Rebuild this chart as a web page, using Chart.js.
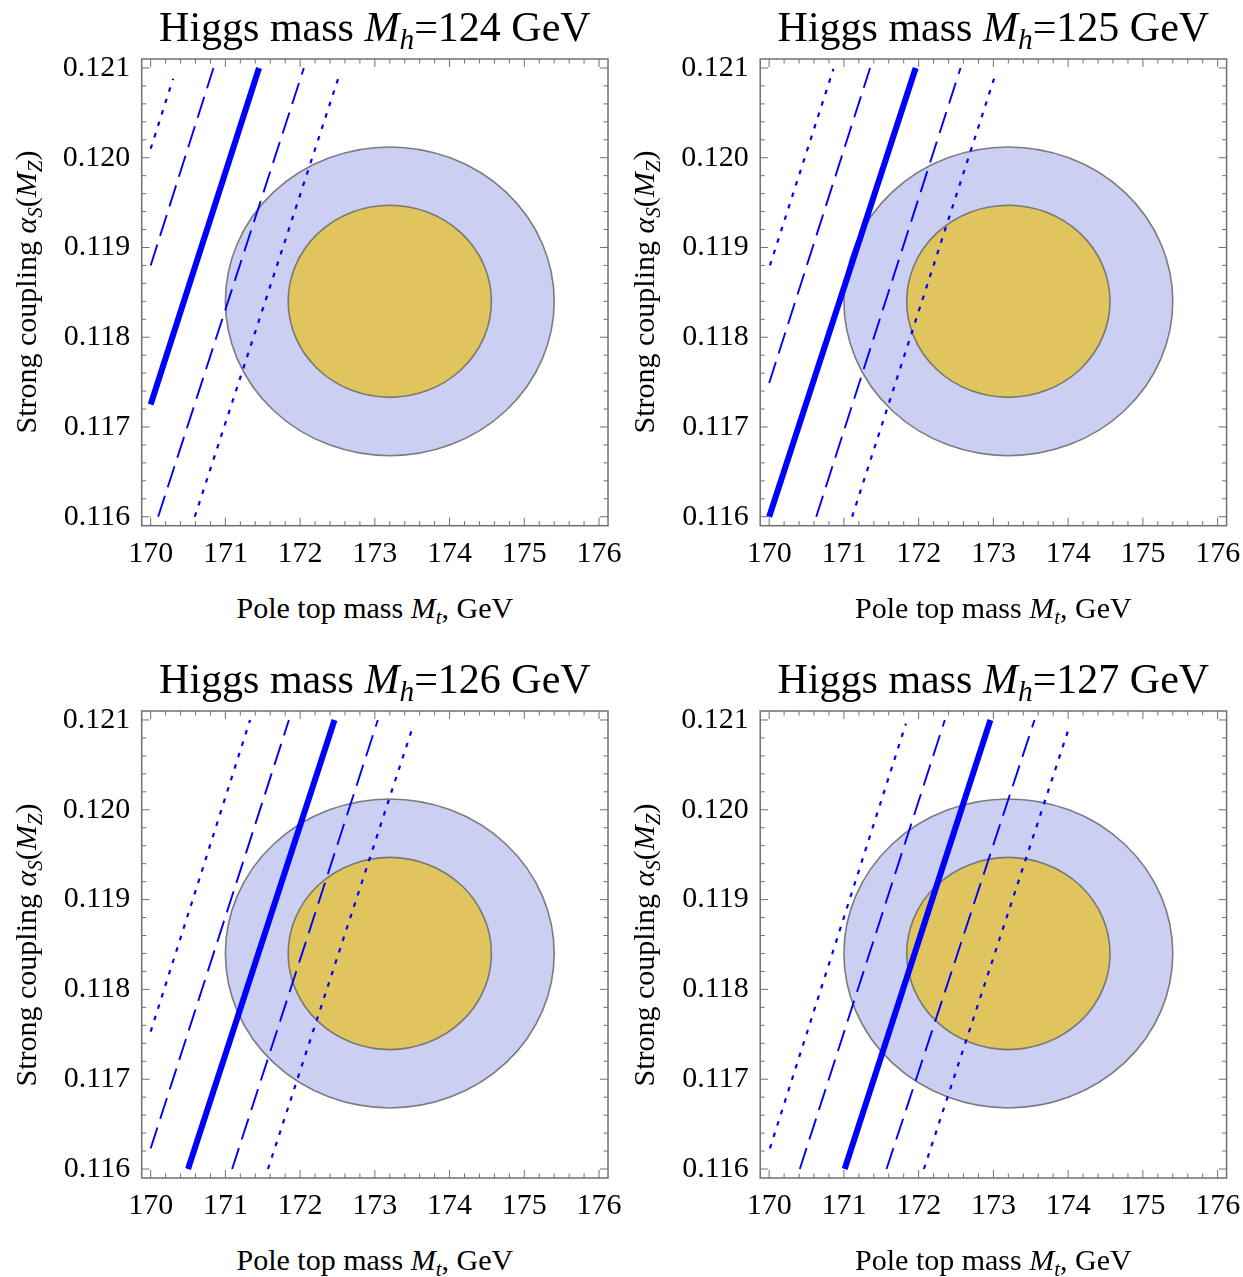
<!DOCTYPE html>
<html><head><meta charset="utf-8">
<script src="https://cdn.jsdelivr.net/npm/chart.js@4.4.1/dist/chart.umd.min.js"></script>
<style>
html,body{margin:0;padding:0;background:#fff;}
#page{position:relative;width:1243px;height:1277px;overflow:hidden;background:#fff;font-family:'Liberation Serif','Times New Roman',serif;color:#000;}
#page canvas{position:absolute;}
.txt{position:absolute;white-space:nowrap;text-align:center;line-height:1;}
.txt sub{font-size:0.7em;line-height:0;vertical-align:-0.28em;}
</style></head><body><div id="page"></div>
<script>
// ---- data ----
const higgsMasses = [124, 125, 126, 127];
const xTickValues = [170, 171, 172, 173, 174, 175, 176];
const yTickValues = [0.116, 0.117, 0.118, 0.119, 0.120, 0.121];
const xRange = [169.88, 176.12];
const yRange = [0.1159, 0.1211];

// experimental region: (Mt, alpha_s) centre and ellipse half-axes
const ellipseCenter = [173.2, 0.1184];
const outerRadii = [2.2, 0.00172];
const innerRadii = [1.36, 0.00107];

// Mh = 124
const central124   = [[170.00, 0.11725], [171.45, 0.12100]];
const dashedLo124  = [[170.00, 0.11880], [170.84, 0.12100]];
const dottedLo124  = [[170.00, 0.12010], [170.30, 0.12088]];
const dashedHi124  = [[170.10, 0.11600], [172.05, 0.12100]];
const dottedHi124  = [[170.59, 0.11600], [172.52, 0.12091]];
// Mh = 125
const central125   = [[170.00, 0.11600], [171.96, 0.12100]];
const dashedLo125  = [[170.00, 0.11749], [171.35, 0.12100]];
const dottedLo125  = [[170.01, 0.11880], [170.86, 0.12099]];
const dashedHi125  = [[170.63, 0.11600], [172.56, 0.12100]];
const dottedHi125  = [[171.11, 0.11600], [173.02, 0.12091]];
// Mh = 126
const central126   = [[170.50, 0.11600], [172.46, 0.12100]];
const dashedLo126  = [[170.00, 0.11623], [171.85, 0.12100]];
const dottedLo126  = [[170.00, 0.11753], [171.33, 0.12100]];
const dashedHi126  = [[171.09, 0.11600], [173.04, 0.12100]];
const dottedHi126  = [[171.57, 0.11600], [173.51, 0.12093]];
// Mh = 127
const central127   = [[171.01, 0.11600], [172.96, 0.12100]];
const dashedLo127  = [[170.41, 0.11600], [172.35, 0.12100]];
const dottedLo127  = [[170.01, 0.11623], [171.83, 0.12096]];
const dashedHi127  = [[171.57, 0.11600], [173.55, 0.12100]];
const dottedHi127  = [[172.07, 0.11600], [174.01, 0.12091]];

const panelLines = [
  [central124, dashedLo124, dottedLo124, dashedHi124, dottedHi124],
  [central125, dashedLo125, dottedLo125, dashedHi125, dottedHi125],
  [central126, dashedLo126, dottedLo126, dashedHi126, dottedHi126],
  [central127, dashedLo127, dottedLo127, dashedHi127, dottedHi127]
];

// ---- layout / style ----
const frames = [
  {L:141.7, T:59,  R:608,    B:525.7},
  {L:760.2, T:59,  R:1226.6, B:525.7},
  {L:141.7, T:711, R:608,    B:1178},
  {L:760.2, T:711, R:1226.6, B:1178}
];
const titleBaselines = [40.7, 40.7, 692.7, 692.7];
const xTitleBaselines = [618.3, 618.3, 1270.3, 1270.3];
const FONT = "'Liberation Serif','Times New Roman',serif";
const lineStyles = [
  {w:6,   dash:[]},
  {w:1.9, dash:[22,9]},
  {w:2.2, dash:[4.5,7.5]},
  {w:1.9, dash:[22,9]},
  {w:2.2, dash:[4.5,7.5]}
];
const FRAME_COLOR = '#707070';

const regionPlugin = {
  id: 'regions',
  beforeDatasetsDraw(chart) {
    const {ctx, chartArea: a} = chart;
    const xs = chart.scales.x, ys = chart.scales.y;
    ctx.save();
    ctx.beginPath(); ctx.rect(a.left, a.top, a.right - a.left, a.bottom - a.top); ctx.clip();
    [[outerRadii, '#cbd0f3'], [innerRadii, '#e0c45e']].forEach(([r, fill]) => {
      const cx = xs.getPixelForValue(ellipseCenter[0]);
      const cy = ys.getPixelForValue(ellipseCenter[1]);
      const rx = Math.abs(xs.getPixelForValue(ellipseCenter[0] + r[0]) - cx);
      const ry = Math.abs(ys.getPixelForValue(ellipseCenter[1] + r[1]) - cy);
      ctx.beginPath(); ctx.ellipse(cx, cy, rx, ry, 0, 0, 2 * Math.PI);
      ctx.fillStyle = fill; ctx.fill();
      ctx.lineWidth = 1.6; ctx.strokeStyle = 'rgba(105,105,105,0.85)'; ctx.stroke();
    });
    ctx.restore();
  },
  afterDatasetsDraw(chart) {
    const {ctx, chartArea: a} = chart;
    const xs = chart.scales.x, ys = chart.scales.y;
    ctx.save();
    ctx.strokeStyle = FRAME_COLOR;
    ctx.lineWidth = 1;
    ctx.beginPath();
    for (let k = Math.ceil(xRange[0] * 5); k <= Math.floor(xRange[1] * 5); k++) {
      const px = xs.getPixelForValue(k / 5);
      const len = (k % 5 === 0) ? 8 : 4.5;
      ctx.moveTo(px, a.bottom); ctx.lineTo(px, a.bottom - len);
      ctx.moveTo(px, a.top); ctx.lineTo(px, a.top + len);
    }
    for (let k = Math.ceil(yRange[0] * 5000 - 1e-6); k <= Math.floor(yRange[1] * 5000 + 1e-6); k++) {
      const py = ys.getPixelForValue(k / 5000);
      const len = (k % 5 === 0) ? 8 : 4.5;
      ctx.moveTo(a.left, py); ctx.lineTo(a.left + len, py);
      ctx.moveTo(a.right, py); ctx.lineTo(a.right - len, py);
    }
    ctx.stroke();
    ctx.lineWidth = 1.5;
    ctx.strokeRect(a.left, a.top, a.right - a.left, a.bottom - a.top);
    ctx.restore();
  }
};

const page = document.getElementById('page');

function addText(html, cx, baseline, size, rotate) {
  const d = document.createElement('div');
  d.className = 'txt';
  d.innerHTML = html;
  d.style.fontSize = size + 'px';
  d.style.width = '600px';
  d.style.height = size + 'px';
  if (!rotate) {
    d.style.left = (cx - 300) + 'px';
    d.style.top = (baseline - 0.8375 * size) + 'px';
  } else {
    const centreX = baseline - 0.3375 * size;
    d.style.left = (centreX - 300) + 'px';
    d.style.top = (cx - size / 2) + 'px';
    d.style.transform = 'rotate(-90deg)';
    d.style.transformOrigin = '50% 50%';
  }
  page.appendChild(d);
}

const YW = 100, PT = 20, PR = 40, XH = 60;

frames.forEach((f, i) => {
  const cl = Math.floor(f.L) - YW, ct = Math.floor(f.T) - PT;
  const cw = Math.ceil(f.R) + PR - cl, ch = Math.ceil(f.B) + XH - ct;
  const yw = f.L - cl, pt = f.T - ct, pr = cw - (f.R - cl), xh = ch - (f.B - ct);
  const c = document.createElement('canvas');
  c.width = cw; c.height = ch;
  c.style.left = cl + 'px'; c.style.top = ct + 'px';
  c.style.width = cw + 'px'; c.style.height = ch + 'px';
  page.appendChild(c);

  const datasets = panelLines[i].map((pts, j) => ({
    data: pts.map(([mt, as]) => ({x: mt, y: as})),
    showLine: true,
    borderColor: '#0000ff',
    borderWidth: lineStyles[j].w,
    borderDash: lineStyles[j].dash,
    borderCapStyle: 'butt',
    pointRadius: 0,
    fill: false
  }));

  new Chart(c, {
    type: 'scatter',
    data: {datasets},
    options: {
      responsive: false, animation: false, events: [],
      layout: {padding: {top: pt, right: pr, left: 0, bottom: 0}},
      plugins: {legend: {display: false}, tooltip: {enabled: false}, title: {display: false}},
      scales: {
        x: {
          type: 'linear', position: 'bottom', min: xRange[0], max: xRange[1],
          afterBuildTicks: s => { s.ticks = xTickValues.map(v => ({value: v})); },
          afterFit: s => { s.height = xh; s.paddingLeft = 0; s.paddingRight = 0; },
          grid: {display: false, drawTicks: false}, border: {display: false},
          ticks: {autoSkip: false, maxRotation: 0, minRotation: 0, padding: 10.5, color: '#000',
                  font: {family: FONT, size: 30}, callback: v => String(v)}
        },
        y: {
          type: 'linear', position: 'left', min: yRange[0], max: yRange[1],
          afterBuildTicks: s => { s.ticks = yTickValues.map(v => ({value: v})); },
          afterFit: s => { s.width = yw; s.paddingTop = 0; s.paddingBottom = 0; },
          grid: {display: false, drawTicks: false}, border: {display: false},
          ticks: {autoSkip: false, padding: 11.5, color: '#000',
                  font: {family: FONT, size: 30}, callback: v => Number(v).toFixed(3)}
        }
      }
    },
    plugins: [regionPlugin]
  });

  const cx = (f.L + f.R) / 2;
  addText('Higgs mass <i>M</i><sub><i>h</i></sub>=' + higgsMasses[i] + ' GeV', cx, titleBaselines[i], 42, false);
  addText('Pole top mass <i>M</i><sub><i>t</i></sub>, GeV', cx, xTitleBaselines[i], 30, false);
  addText('Strong coupling <i>α</i><sub><i>S</i></sub>(<i>M</i><sub><i>Z</i></sub>)', (f.T + f.B) / 2, f.L - 106, 30, true);
});
</script>
</body></html>
